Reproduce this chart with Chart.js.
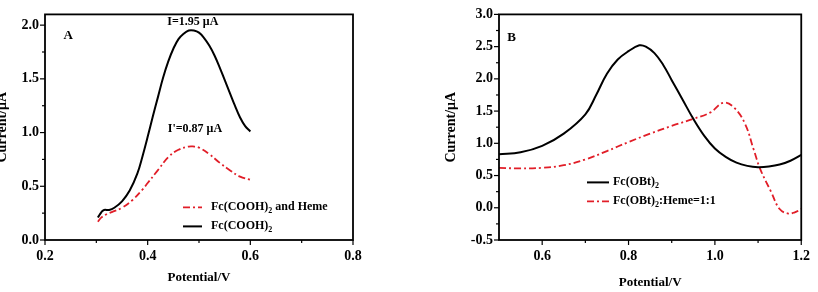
<!DOCTYPE html>
<html><head><meta charset="utf-8">
<script src="https://cdn.jsdelivr.net/npm/chart.js@4.4.0/dist/chart.umd.min.js"></script>
<style>
html,body{margin:0;padding:0;background:#fff;overflow:hidden;width:818px;height:292px;position:relative;}
#cA{position:absolute;left:-46px;top:0;}
#cB{position:absolute;left:409px;top:0;}
</style></head><body>
<canvas id="cA" width="455" height="292"></canvas>
<canvas id="cB" width="409" height="292"></canvas>
<script>
// ---------- Panel A data ----------
const potentialA_black = [0.303,0.31,0.315,0.325,0.335,0.35,0.365,0.38,0.39,0.40,0.41,0.42,0.43,0.44,0.45,0.46,0.47,0.48,0.49,0.50,0.51,0.52,0.53,0.54,0.55,0.56,0.57,0.58,0.59,0.60];
const currentA_FcCOOH2 = [0.21,0.26,0.28,0.28,0.30,0.36,0.46,0.62,0.78,0.96,1.15,1.33,1.51,1.66,1.78,1.87,1.92,1.95,1.95,1.93,1.88,1.81,1.72,1.61,1.49,1.37,1.25,1.14,1.06,1.01];
const potentialA_red = [0.303,0.31,0.32,0.33,0.35,0.37,0.39,0.40,0.42,0.44,0.46,0.48,0.49,0.50,0.52,0.54,0.56,0.58,0.60];
const currentA_FcCOOH2Heme = [0.17,0.21,0.24,0.26,0.30,0.37,0.47,0.53,0.65,0.77,0.84,0.87,0.87,0.86,0.80,0.72,0.65,0.59,0.56];
const xTicksA = [0.2,0.4,0.6,0.8];
const xMinorA = [0.3,0.5,0.7];
const yTicksA = [0.0,0.5,1.0,1.5,2.0];
const yMinorA = [0.25,0.75,1.25,1.75];
const labelsA = ['Fc(COOH)_2 and Heme','Fc(COOH)_2'];
const notesA = ['I=1.95 μA',"I'=0.87 μA",'A'];

// ---------- Panel B data ----------
const potentialB_black = [0.5,0.55,0.6,0.65,0.7,0.725,0.75,0.775,0.8,0.825,0.84,0.86,0.88,0.9,0.925,0.95,0.975,1.0,1.025,1.05,1.075,1.1,1.125,1.15,1.175,1.2];
const currentB_FcOBt2 = [0.83,0.86,0.96,1.15,1.45,1.75,2.08,2.3,2.43,2.52,2.50,2.40,2.22,1.98,1.68,1.38,1.12,0.92,0.79,0.70,0.65,0.63,0.64,0.67,0.73,0.82];
const potentialB_red = [0.5,0.55,0.6,0.65,0.7,0.75,0.8,0.85,0.9,0.95,0.99,1.02,1.045,1.07,1.09,1.105,1.13,1.15,1.17,1.185,1.2];
const currentB_FcOBt2Heme = [0.62,0.61,0.62,0.66,0.75,0.88,1.02,1.15,1.27,1.38,1.48,1.63,1.55,1.3,0.9,0.6,0.25,-0.02,-0.09,-0.07,-0.02];
const xTicksB = [0.6,0.8,1.0,1.2];
const xMinorB = [0.7,0.9,1.1];
const yTicksB = [-0.5,0.0,0.5,1.0,1.5,2.0,2.5,3.0];
const yMinorB = [-0.25,0.25,0.75,1.25,1.75,2.25,2.75];
const labelsB = ['Fc(OBt)_2','Fc(OBt)_2:Heme=1:1'];
const notesB = ['B'];

const SERIF = '"Liberation Serif","Times New Roman",serif';
const RED = 'rgb(225,30,40)';
const DASH = [7,3,2,3];

function pts(xs, ys){ return xs.map((v,i)=>({x:v,y:ys[i]})); }

function drawRich(ctx, text, x, y, size){
  const parts = text.split('_');
  let cx = x;
  parts.forEach((p,i)=>{
    let s = p;
    if(i>0){
      const sub = s.charAt(0); s = s.slice(1);
      ctx.font = 'bold '+Math.round(size*0.65)+'px '+SERIF;
      ctx.fillText(sub, cx, y+4);
      cx += ctx.measureText(sub).width;
    }
    ctx.font = 'bold '+size+'px '+SERIF;
    ctx.fillText(s, cx, y);
    cx += ctx.measureText(s).width;
  });
}

const framePlugin = {
  id:'frame',
  afterDraw(chart, args, o){
    const {ctx, chartArea:a, scales:{x,y}} = chart;
    ctx.save();
    ctx.strokeStyle='#000';
    ctx.lineWidth=1.2;
    const seg=(x1,y1,x2,y2)=>{ctx.beginPath();ctx.moveTo(x1,y1);ctx.lineTo(x2,y2);ctx.stroke();};
    o.xMajor.forEach(v=>{const p=x.getPixelForValue(v);seg(p,a.bottom,p,a.bottom+5);});
    o.xMinor.forEach(v=>{const p=x.getPixelForValue(v);seg(p,a.bottom,p,a.bottom+3);});
    o.yMajor.forEach(v=>{const p=y.getPixelForValue(v);seg(a.left-5,p,a.left,p);});
    o.yMinor.forEach(v=>{const p=y.getPixelForValue(v);seg(a.left-3,p,a.left,p);});
    ctx.lineWidth=1.8;
    ctx.strokeRect(a.left, a.top, a.right-a.left, a.bottom-a.top);
    ctx.fillStyle='#000';
    ctx.textBaseline='middle';
    o.notes.forEach(n=>{
      ctx.font='bold '+n.size+'px '+SERIF;
      ctx.textAlign=n.align||'center';
      ctx.fillText(n.text, x.getPixelForValue(n.x), y.getPixelForValue(n.y));
    });
    ctx.textAlign='left';
    o.legend.forEach((l,i)=>{
      const ds = chart.data.datasets[l.ds];
      const ly = a.top + l.dy;
      ctx.strokeStyle = ds.borderColor;
      ctx.lineWidth = ds.borderWidth;
      ctx.setLineDash(ds.borderDash||[]);
      seg(a.left+l.dx, ly, a.left+l.dx+l.len, ly);
      ctx.setLineDash([]);
      ctx.fillStyle='#000';
      drawRich(ctx, ds.label, a.left+l.dx+l.len+l.gap, ly, 12);
    });
    ctx.restore();
  }
};

function makeOpts(cfg){
  const tickFont = {family:SERIF, weight:'bold', size:14};
  return {
    responsive:false, animation:false,
    layout:{padding:{top:10,right:cfg.padRight,left:0,bottom:0}},
    plugins:{legend:{display:false}, tooltip:{enabled:false}, frame:cfg.frame},
    elements:{line:{tension:0.4, capBezierPoints:true}},
    scales:{
      x:{type:'linear', min:cfg.xmin, max:cfg.xmax,
        afterFit:s=>{s.height=52;},
        afterBuildTicks:s=>{s.ticks=cfg.xTicks.map(v=>({value:v}));},
        grid:{display:false, drawTicks:false}, border:{display:false},
        ticks:{font:tickFont, color:'#000', padding:8, maxRotation:0, callback:v=>Number(v).toFixed(1)},
        title:{display:true, text:'Potential/V', color:'#000', font:{family:SERIF, weight:'bold', size:13}, padding:{top:0,bottom:cfg.xTitlePad}}
      },
      y:{type:'linear', min:cfg.ymin, max:cfg.ymax,
        afterFit:s=>{s.width=cfg.yWidth;},
        afterBuildTicks:s=>{s.ticks=cfg.yTicks.map(v=>({value:v}));},
        grid:{display:false, drawTicks:false}, border:{display:false},
        ticks:{font:tickFont, color:'#000', padding:6, callback:v=>Number(v).toFixed(1)},
        title:{display:true, text:'Current/μA', color:'#000', font:{family:SERIF, weight:'bold', size:14}, padding:{top:cfg.yTitlePad,bottom:0}}
      }
    }
  };
}

new Chart(document.getElementById('cA'), {
  type:'line',
  data:{datasets:[
    {label:labelsA[0], data:pts(potentialA_red,currentA_FcCOOH2Heme), borderColor:RED, borderWidth:1.8, borderDash:DASH, pointRadius:0, fill:false},
    {label:labelsA[1], data:pts(potentialA_black,currentA_FcCOOH2), borderColor:'#000', borderWidth:2, pointRadius:0, fill:false}
  ]},
  options:makeOpts({padRight:56, xmin:0.2, xmax:0.8, ymin:0, ymax:2.1, yWidth:91,
    xTicks:xTicksA, yTicks:yTicksA, xTitlePad:7, yTitlePad:40,
    frame:{xMajor:xTicksA, xMinor:xMinorA, yMajor:yTicksA, yMinor:yMinorA,
      notes:[{text:notesA[0],x:0.488,y:2.03,size:12},{text:notesA[1],x:0.492,y:1.03,size:12},{text:notesA[2],x:0.245,y:1.90,size:13}],
      legend:[{ds:0,dx:138,dy:193,len:19,gap:9},{ds:1,dx:138,dy:212,len:19,gap:9}]}
  }),
  plugins:[framePlugin]
});

new Chart(document.getElementById('cB'), {
  type:'line',
  data:{datasets:[
    {label:labelsB[0], data:pts(potentialB_black,currentB_FcOBt2), borderColor:'#000', borderWidth:2, pointRadius:0, fill:false},
    {label:labelsB[1], data:pts(potentialB_red,currentB_FcOBt2Heme), borderColor:RED, borderWidth:1.8, borderDash:DASH, pointRadius:0, fill:false}
  ]},
  options:makeOpts({padRight:10, xmin:0.5, xmax:1.2, ymin:-0.5, ymax:3.0, yWidth:90,
    xTicks:xTicksB, yTicks:yTicksB, xTitlePad:2, yTitlePad:34,
    frame:{xMajor:xTicksB, xMinor:xMinorB, yMajor:yTicksB, yMinor:yMinorB,
      notes:[{text:notesB[0],x:0.529,y:2.635,size:13}],
      legend:[{ds:0,dx:88,dy:168,len:22,gap:4},{ds:1,dx:88,dy:187,len:22,gap:4}]}
  }),
  plugins:[framePlugin]
});
</script>
</body></html>
